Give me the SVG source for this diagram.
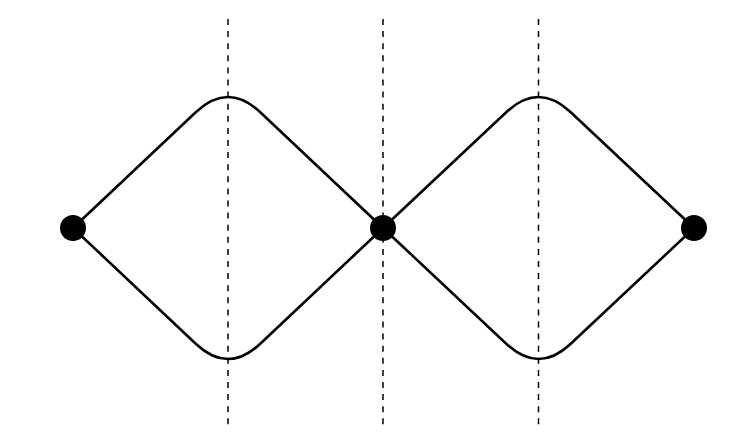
<svg xmlns="http://www.w3.org/2000/svg" width="750" height="442" viewBox="0 0 750 442">
<style>
.edge{fill:none;stroke:#000;stroke-width:2.6;stroke-linejoin:round}
.guide{fill:none;stroke:#000;stroke-width:1.5;stroke-dasharray:6 6.1}
.dot{fill:#000}
</style>
<rect width="750" height="442" fill="#fff"/>
<g id="guides">
<line class="guide" x1="228" y1="19" x2="228" y2="430"/>
<line class="guide" x1="383" y1="19" x2="383" y2="430"/>
<line class="guide" x1="538.5" y1="19" x2="538.5" y2="430"/>
</g>
<g id="connectors">
<path class="edge" d="M73,228 L196,112 Q228,82 260,112 L383,228"/>
<path class="edge" d="M73,228 L196,344 Q228,374 260,344 L383,228"/>
<path class="edge" d="M383,228 L506.5,112 Q538.5,82 570.5,112 L694,228"/>
<path class="edge" d="M383,228 L506.5,344 Q538.5,374 570.5,344 L694,228"/>
</g>
<g id="node-left"><circle class="dot" cx="73" cy="228" r="13"/></g>
<g id="node-mid"><circle class="dot" cx="383" cy="228" r="13"/></g>
<g id="node-right"><circle class="dot" cx="694" cy="228" r="13"/></g>
</svg>
